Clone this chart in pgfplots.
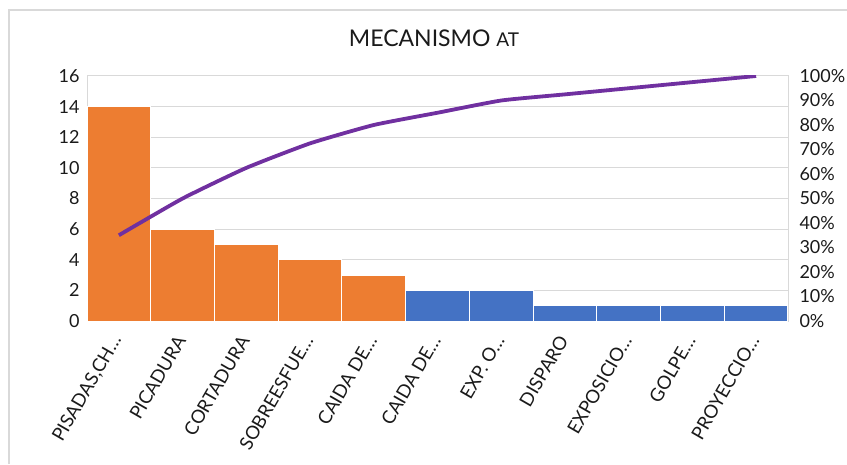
\documentclass[border=0pt]{standalone}
\usepackage{fontspec}
\setmainfont{Lato}
\usepackage{pgfplots}
\pgfplotsset{compat=1.18}
\definecolor{barorange}{HTML}{ED7D31}
\definecolor{barblue}{HTML}{4472C4}
\definecolor{linepurple}{HTML}{7030A0}
\definecolor{gridgray}{HTML}{D9D9D9}
\definecolor{txt}{HTML}{1A1A1A}

\begin{document}
\begin{tikzpicture}
\path[use as bounding box] (0,0) rectangle (847pt,464pt);
\draw[gridgray, line width=1.2pt] (9pt,0) -- (9pt,454pt) -- (847pt,454pt);

\pgfplotsset{
  paretobase/.style={
    at={(87pt,143pt)}, anchor=south west,
    scale only axis, width=701pt, height=245pt,
    xmin=-0.5, xmax=10.5,
    /pgf/number format/assume math mode=true,
    tick label style={font=\fontsize{18}{20}\selectfont, text=txt},
    major tick length=0pt,
  }
}

\begin{axis}[
  paretobase,
  ymin=0, ymax=16, ytick={0,2,...,16},
  ymajorgrids, grid style={gridgray, line width=1pt},
  axis line style={gridgray, line width=1pt},
  xtick={0,...,10},
  xticklabels={{PISADAS,CH…}, PICADURA, CORTADURA, SOBREESFUE…, CAIDA DE…,
    CAIDA DE…, EXP. O…, DISPARO, EXPOSICIO…, GOLPE…, PROYECCIO…},
  xticklabel style={xshift=0pt, yshift=-13pt, rotate=60, anchor=east,
    font=\fontsize{18.5}{21}\selectfont},
  yticklabel style={xshift=-4pt},
]
\addplot[ybar, bar width=63.7pt, bar shift=0pt, fill=barorange, draw=white, line width=1pt]
  coordinates {(0,14) (1,6) (2,5) (3,4) (4,3)};
\addplot[ybar, bar width=63.7pt, bar shift=0pt, fill=barblue, draw=white, line width=1pt]
  coordinates {(5,2) (6,2) (7,1) (8,1) (9,1) (10,1)};
\end{axis}

\begin{axis}[
  paretobase,
  ymin=0, ymax=100, ytick={0,10,...,100},
  axis x line=none, axis y line*=right,
  axis line style={draw=none},
  yticklabel={\pgfmathprintnumber{\tick}\%},
  yticklabel style={xshift=8pt},
]
\addplot[linepurple, line width=3.8pt, smooth, tension=0.3]
  coordinates {(0,35) (1,50) (2,62.5) (3,72.5) (4,80) (5,85) (6,90)
               (7,92.5) (8,95) (9,97.5) (10,100)};
\end{axis}

\node[text=txt, anchor=center] at (434pt,426pt)
  {\fontsize{23}{28}\selectfont MECANISMO \fontsize{19}{24}\selectfont AT};
\end{tikzpicture}
\end{document}
